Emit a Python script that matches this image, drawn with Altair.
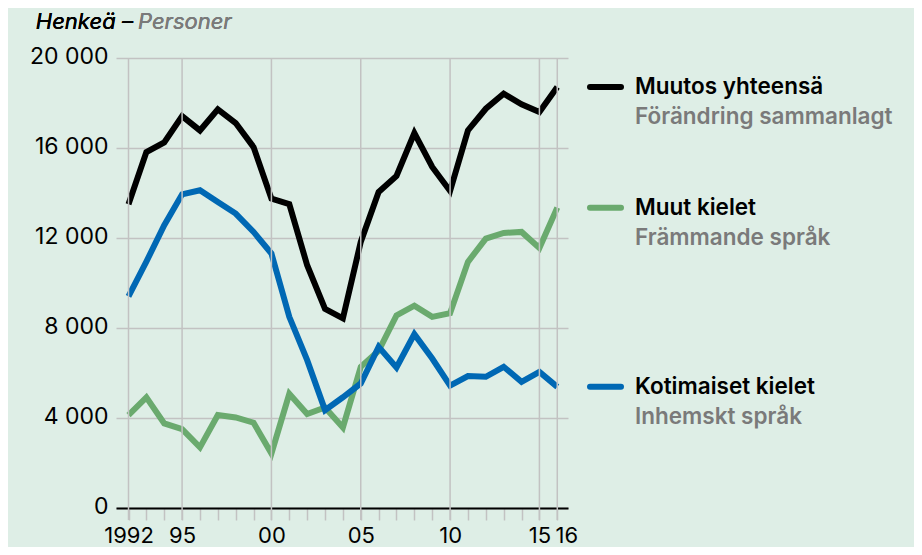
import altair as alt
import pandas as pd

years = list(range(1992, 2017))
total = [13500, 15820, 16250, 17420, 16780, 17720, 17110, 16040, 13750, 13500,
         10790, 8850, 8430, 11825, 14045, 14755, 16665, 15155, 14090, 16780,
         17745, 18410, 17940, 17600, 18710]
domestic = [9410, 10950, 12565, 13940, 14120, 13600, 13085, 12270, 11310, 8495,
            6570, 4350, 4920, 5535, 7160, 6245, 7725, 6645, 5440, 5865,
            5830, 6275, 5610, 6050, 5385]
foreign = [4130, 4915, 3760, 3508, 2694, 4130, 4026, 3790, 2427, 5075,
           4175, 4470, 3580, 6275, 6985, 8560, 8990, 8495, 8660, 10940,
           11975, 12225, 12270, 11560, 13350]

series_fi = ["Muutos yhteensä", "Muut kielet", "Kotimaiset kielet"]
series_sv = ["Förändring sammanlagt", "Främmande språk", "Inhemskt språk"]
series_colors = ["#000000", "#6aaa6e", "#0068b4"]

label_years = [1992, 1995, 2000, 2005, 2010, 2015, 2016]
y_ticks = [0, 4000, 8000, 12000, 16000, 20000]

FONT = "Inter"
BG = "#deeee6"
GRID = "#c2c2c2"

rows = []
for name, vals in zip(series_fi, [total, foreign, domestic]):
    for yr, v in zip(years, vals):
        rows.append({"year": yr, "value": v, "series": name})
df = pd.DataFrame(rows)

ends = pd.DataFrame({
    "series": series_fi,
    "sv": series_sv,
    "year": [years[-1]] * 3,
    "value": [total[-1], foreign[-1], domestic[-1]],
})

grid_df = pd.DataFrame({"year": label_years})

xscale = alt.Scale(domain=[1991.3, 2016.6], nice=False, zero=False)
yscale = alt.Scale(domain=[0, 20000], nice=False)
color = alt.Color("series:N", scale=alt.Scale(domain=series_fi, range=series_colors), legend=None)

label_list = ",".join(str(v) for v in label_years)

x_axis = alt.Axis(
    values=years,
    labelExpr="indexof([" + label_list + "], datum.value) < 0 ? '' : (datum.value == 1992 ? '1992' : slice(toString(datum.value), 2))",
    grid=False,
    domainColor="#000000",
    domainWidth=2,
    tickColor=GRID,
    tickWidth=1.5,
    tickSize=12,
    labelFontSize=22,
    labelFont=FONT,
    labelColor="#000000",
    labelBaseline="top",
    labelPadding=5,
    labelOffset={"condition": {"test": "datum.value == 2016", "value": 9}, "value": 0},
    labelFlush=False,
    labelOverlap=False,
    labelBound=False,
    title=None,
)

y_axis = alt.Axis(
    values=y_ticks,
    labelExpr="replace(format(datum.value, ','), ',', ' ')",
    grid=True,
    gridColor=GRID,
    gridWidth=1.5,
    domain=False,
    ticks=False,
    labelFontSize=23,
    labelFont=FONT,
    labelColor="#000000",
    labelPadding=8,
    labelOffset=-2,
    labelOverlap=False,
    title=None,
)

lines = alt.Chart(df).mark_line(strokeWidth=6, strokeJoin="miter").encode(
    x=alt.X("year:Q", scale=xscale, axis=x_axis),
    y=alt.Y("value:Q", scale=yscale, axis=y_axis),
    color=color,
    detail="series:N",
)

vgrid = alt.Chart(grid_df).mark_rule(color=GRID, strokeWidth=1.5).encode(
    x=alt.X("year:Q", scale=xscale, axis=x_axis),
    y=alt.value(0),
    y2=alt.value(462),
)

swatch = alt.Chart(ends).mark_rule(strokeWidth=6, strokeCap="round").encode(
    x=alt.value(474),
    x2=alt.value(505),
    y=alt.Y("value:Q", scale=yscale, axis=y_axis),
    color=color,
)

label_fi = alt.Chart(ends).mark_text(
    align="left", baseline="middle", font=FONT, fontSize=22.5, fontWeight=600, color="#000000"
).encode(
    x=alt.value(519),
    y=alt.Y("value:Q", scale=yscale, axis=y_axis),
    text="series:N",
)

label_sv = alt.Chart(ends).mark_text(
    align="left", baseline="middle", font=FONT, fontSize=22.5, fontWeight=600, color="#7a7a7a", dy=30
).encode(
    x=alt.value(519),
    y=alt.Y("value:Q", scale=yscale, axis=y_axis),
    text="sv:N",
)

title_a = alt.Chart(ends).mark_text(
    align="right", baseline="alphabetic", font=FONT, fontSize=22, fontStyle="italic",
    fontWeight=400, color="#000000"
).encode(x=alt.value(17), y=alt.value(-29), text=alt.value("Henkeä –"))

title_b = alt.Chart(ends).mark_text(
    align="left", baseline="alphabetic", font=FONT, fontSize=22, fontStyle="italic",
    fontWeight=400, color="#7a7a7a"
).encode(x=alt.value(22), y=alt.value(-29), text=alt.value("Personer"))

chart = alt.layer(lines, vgrid, swatch, label_fi, label_sv, title_a, title_b).properties(
    width=452,
    height=450,
    background=BG,
    padding={"left": 108, "top": 50, "right": 346, "bottom": 39},
    autosize=alt.AutoSizeParams(type="none"),
).configure_view(stroke=None)

chart.save("out.html", embed_options={"renderer": "svg", "actions": False})
